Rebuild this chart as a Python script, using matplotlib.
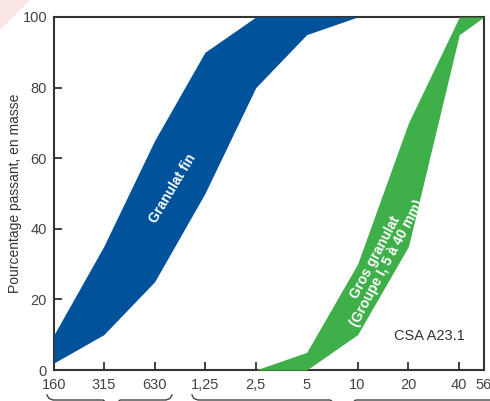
import matplotlib
matplotlib.use("Agg")
import matplotlib.pyplot as plt
from matplotlib.lines import Line2D
from matplotlib.patches import Polygon

plt.rcParams['font.family'] = ['Liberation Sans', 'DejaVu Sans']

# Sieve sizes (mm) and tick labels
sieve_sizes = [0.16, 0.315, 0.63, 1.25, 2.5, 5, 10, 20, 40, 56]
tick_labels = ["160", "315", "630", "1,25", "2,5", "5", "10", "20", "40", "56"]

# Fine aggregate band (% passing)
fine_sizes = [0.16, 0.315, 0.63, 1.25, 2.5, 5, 10]
fine_lower = [2, 10, 25, 50, 80, 95, 100]
fine_upper = [10, 35, 65, 90, 100, 100, 100]

# Coarse aggregate band (% passing)
coarse_sizes = [2.5, 5, 10, 20, 40, 56]
coarse_lower = [0, 0, 10, 35, 95, 100]
coarse_upper = [0, 5, 30, 70, 100, 100]

blue = "#00539B"
green = "#3FAF4A"
dark = "#333333"

W, H = 490, 401
fig = plt.figure(figsize=(W / 100, H / 100), dpi=100)
ax = fig.add_axes([54 / W, 1 - 370 / H, (484 - 54) / W, (370 - 17) / H])

ax.fill_between(fine_sizes, fine_lower, fine_upper, color=blue, lw=0, zorder=3)
ax.fill_between(coarse_sizes, coarse_lower, coarse_upper, color=green, lw=0, zorder=3)

ax.set_xscale('log')
ax.set_xlim(sieve_sizes[0], sieve_sizes[-1])
ax.set_ylim(0, 100)
ax.set_xticks(sieve_sizes)
ax.set_xticklabels(tick_labels)
ax.minorticks_off()
ax.set_yticks([0, 20, 40, 60, 80, 100])

ax.tick_params(direction='in', length=6, width=1.3, color=dark,
               labelsize=10.5, labelcolor="#444444", pad=5)
ax.tick_params(axis='x', pad=6)
for s in ax.spines.values():
    s.set_linewidth(1.5)
    s.set_color(dark)
    s.set_zorder(2)

ax.set_ylabel("Pourcentage passant, en masse", fontsize=10, color="#333333", labelpad=0)

ax.text(0.81, 51.5, "Granulat fin", rotation=59, color="white", fontsize=10,
        fontweight='bold', ha='center', va='center', zorder=5)
ax.text(13.8, 31, "Gros granulat\n(Groupe I, 5 à 40 mm)", rotation=62, color="white",
        fontsize=10, fontweight='bold', ha='center', va='center', zorder=5,
        linespacing=0.95, rotation_mode='anchor')
ax.text(43, 9.5, "CSA A23.1", color="#333333", fontsize=10.5, ha='right', va='center', zorder=5)

# Braces below the tick labels (cut by the figure edge)
def fig_line(xs, ys):
    fig.add_artist(Line2D([x / W for x in xs], [1 - y / H for y in ys],
                          color="#444444", lw=1.0))

fig_line([47, 49, 53, 103, 108], [395, 398.5, 400, 400, 404])
fig_line([116, 120, 166, 170, 172], [404, 400, 400, 398.5, 395])
fig_line([192, 194, 198, 330, 336], [395, 398.5, 400, 400, 404])
fig_line([350, 356, 495], [404, 400, 400])

# faint watermark in the top-left corner
fig.add_artist(Polygon([(0, 1), (30 / W, 1), (0, 1 - 30 / H)], closed=True,
                       transform=fig.transFigure, color="#fbe6e6", lw=0, zorder=0))

fig.savefig("out.png", dpi=100)
